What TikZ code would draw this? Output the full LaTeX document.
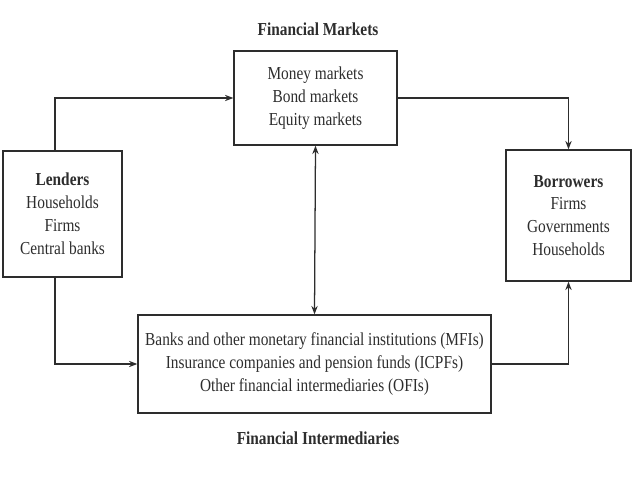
\documentclass[tikz,border=0pt]{standalone}
\usepackage{fontspec}
\setmainfont{Liberation Serif}[FakeStretch=0.84]
\usetikzlibrary{arrows.meta}
\definecolor{Ink}{RGB}{45, 45, 45}

\tikzset{
    box/.style={draw=Ink, line width=0.9pt, align=center, inner sep=0pt,
        font=\fontsize{13}{16.3}\selectfont, text=Ink},
    title/.style={font=\fontsize{13}{16}\selectfont\bfseries, text=Ink},
    flow/.style={draw=Ink, line width=0.9pt, -{Stealth[length=6pt,width=4.5pt]}},
}

\begin{document}
\begin{tikzpicture}[x=0.025cm, y=-0.025cm]
    %% Background
    \useasboundingbox (0,0) rectangle (638,479);

    %% Boxes
    \node[box, minimum width=4.075cm, minimum height=2.35cm] (markets) at (315.5,98)
        {Money markets\\Bond markets\\Equity markets};
    \node[box, minimum width=2.975cm, minimum height=3.15cm] (lenders) at (62.5,214)
        {\textbf{Lenders}\\Households\\Firms\\Central banks};
    \node[box, minimum width=3.125cm, minimum height=3.275cm] (borrowers) at (568.5,215.5)
        {\textbf{Borrowers}\\Firms\\Governments\\Households};
    \node[box, minimum width=8.825cm, minimum height=2.45cm] (inter) at (314.5,364)
        {Banks and other monetary financial institutions (MFIs)\\
         Insurance companies and pension funds (ICPFs)\\
         Other financial intermediaries (OFIs)};

    %% Titles
    \node[title] (marketstitle) at (318,29) {Financial Markets};
    \node[title] (intertitle) at (318,438) {Financial Intermediaries};

    %% Flows
    \coordinate (lx) at (55,0);
    \draw[flow] (lenders.north -| lx) |- (markets.west);
    \draw[flow] (markets.east) -| (borrowers.north);
    \draw[flow] (lenders.south -| lx) |- (inter.west);
    \draw[flow] (inter.east) -| (borrowers.south);
    \draw[flow, {Stealth[length=6pt,width=4.5pt]}-{Stealth[length=6pt,width=4.5pt]}]
        (markets.south) -- (inter.north);

\end{tikzpicture}
\end{document}
